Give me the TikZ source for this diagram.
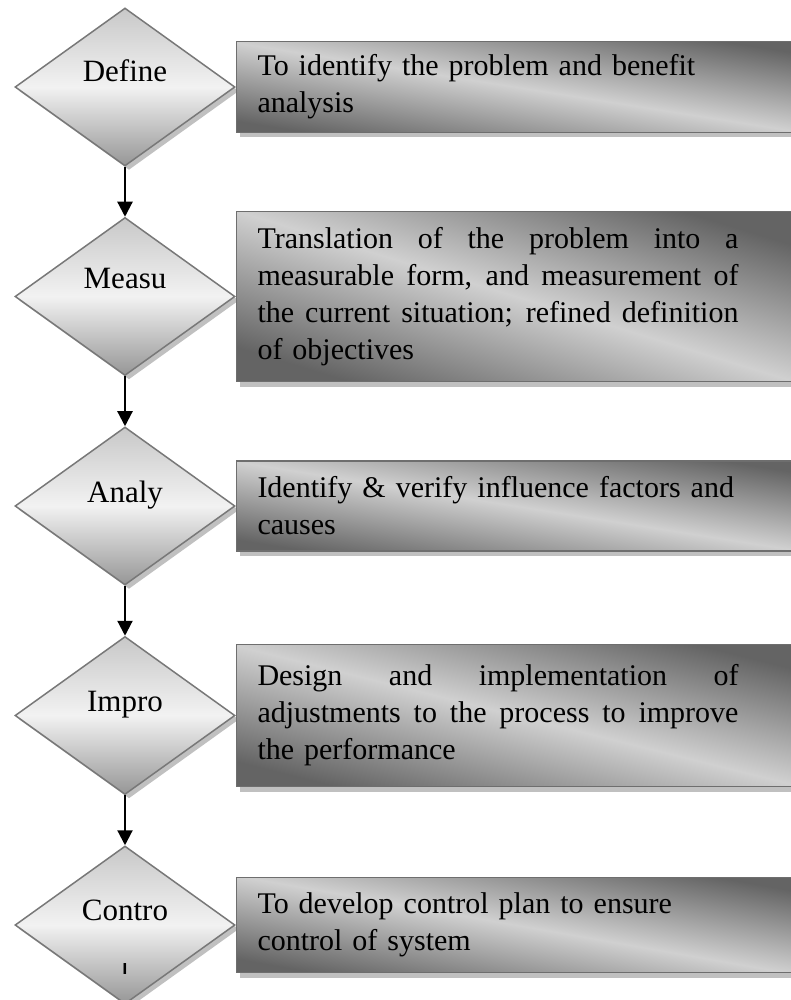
\documentclass[tikz,border=0pt]{standalone}
\usepackage{fontspec}
\setmainfont{Liberation Serif}
\usetikzlibrary{
  arrows.meta,
  positioning,
  shadows,
  shapes.geometric,
}
\definecolor{diatop}{RGB}{200, 200, 200}
\definecolor{dialight}{RGB}{242, 242, 242}
\definecolor{diabot}{RGB}{150, 150, 150}
\definecolor{dialine}{RGB}{120, 120, 120}
\definecolor{boxdark}{RGB}{100, 100, 100}
\definecolor{boxlight}{RGB}{208, 208, 208}
\definecolor{boxline}{RGB}{110, 110, 110}
\definecolor{shadowgray}{RGB}{192, 192, 192}
\tikzstyle{stepdiamond} = [
  diamond,
  draw=dialine,
  line width=1.5pt,
  inner sep=0pt,
  minimum width=220pt,
  minimum height=158pt,
  top color=diatop,
  bottom color=diabot,
  middle color=dialight,
  drop shadow={shadow xshift=4pt, shadow yshift=-4pt, fill=shadowgray, opacity=1},
]
\tikzstyle{steplabel} = [
  font=\fontsize{31}{37}\selectfont,
  inner sep=0pt,
  anchor=base,
]
\tikzstyle{descbox} = [
  rectangle,
  draw=boxline,
  line width=1.5pt,
  minimum width=560pt,
  inner xsep=21pt,
  inner ysep=0pt,
  text width=518pt,
  align=left,
  font=\fontsize{30}{37}\selectfont,
  top color=boxdark,
  bottom color=boxdark,
  middle color=boxlight,
  drop shadow={shadow xshift=3pt, shadow yshift=-5pt, fill=shadowgray, opacity=1},
]
\tikzstyle{flowarrow} = [
  -{Triangle[width=15pt,length=15pt]},
  line width=2.2pt,
  black,
]
% justified line: give the spaces their stretch back
\newcommand{\jline}[1]{\makebox[481pt][s]{\spaceskip=0pt\xspaceskip=0pt\relax #1}}

\begin{document}
\begin{tikzpicture}[node distance=50pt and 0pt]
  \useasboundingbox (0pt,0pt) rectangle (790pt,-1000pt);

  \node[stepdiamond] (dm1) at (125pt,-87pt) {};
  \node[stepdiamond] (dm2) [below=of dm1] {};
  \node[stepdiamond] (dm3) [below=of dm2] {};
  \node[stepdiamond] (dm4) [below=of dm3] {};
  \node[stepdiamond] (dm5) [below=of dm4] {};

  \node[steplabel] (lab1) at ([yshift=5pt]dm1.center) {Define};
  \node[steplabel] (lab2) at ([yshift=8pt]dm2.center) {Measu};
  \node[steplabel] (lab3) at ([yshift=4pt]dm3.center) {Analy};
  \node[steplabel] (lab4) at ([yshift=4pt]dm4.center) {Impro};
  \node[steplabel] (lab5) at ([yshift=5pt]dm5.center) {Contro};
  \begin{scope}
    \clip ([yshift=-38pt]dm5.west) rectangle ([yshift=-48.5pt]dm5.east);
    \node[steplabel] (lab5b) at ([yshift=-58pt]dm5.center) {l};
  \end{scope}

  \node[descbox,minimum height=91pt,shading angle=-9] (desc1) [right=of dm1]
    {To identify the problem and benefit\\analysis};
  \node[descbox,minimum height=170pt,shading angle=-17] (desc2) [right=of dm2]
    {\jline{Translation of the problem into a}\\
     \jline{measurable form, and measurement of}\\
     \jline{the current situation; refined definition}\\
     of objectives};
  \node[descbox,minimum height=90pt,shading angle=-9] (desc3) [right=of dm3]
    {Identify \& verify influence factors and\\causes};
  \node[descbox,minimum height=142pt,shading angle=-14] (desc4) [right=of dm4]
    {\jline{Design and implementation of}\\
     \jline{adjustments to the process to improve}\\
     the performance};
  \node[descbox,minimum height=95pt,shading angle=-10] (desc5) [right=of dm5]
    {To develop control plan to ensure\\control of system};

  \draw[flowarrow] (dm1) -- (dm2);
  \draw[flowarrow] (dm2) -- (dm3);
  \draw[flowarrow] (dm3) -- (dm4);
  \draw[flowarrow] (dm4) -- (dm5);
\end{tikzpicture}
\end{document}
